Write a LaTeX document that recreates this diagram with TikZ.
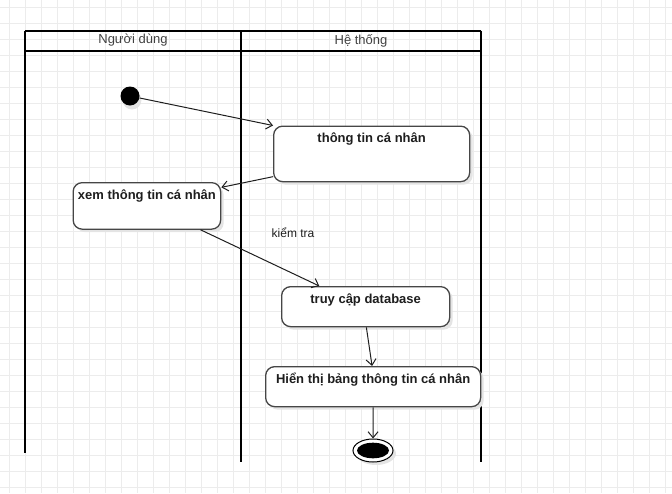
\documentclass[tikz,border=0pt]{standalone}
\usepackage{fontspec}
\setmainfont{Liberation Sans}
\usetikzlibrary{positioning,calc}
\usetikzlibrary{arrows.meta,shapes.geometric,shadows}
\definecolor{GridGray}{RGB}{236,236,236}
\definecolor{BoxGray}{RGB}{70,70,70}
\definecolor{ShadeGray}{RGB}{228,228,228}
\definecolor{InkDark}{RGB}{30,30,30}
\tikzset{
  gridline/.style={draw=GridGray,line width=1pt},
  lane/.style={draw=black,line width=2pt},
  lanetitle/.style={font=\fontsize{13}{15}\selectfont,text=InkDark!85},
  act/.style={draw=BoxGray,fill=white,line width=1.3pt,rounded corners=9pt,
    anchor=north west,inner sep=0pt,text height=16.5pt,
    font=\bfseries\fontsize{13}{15}\selectfont,text=InkDark,
    drop shadow={shadow xshift=3pt,shadow yshift=-3pt,fill=ShadeGray,opacity=1}},
  flow/.style={draw=InkDark,line width=1pt,-{Straight Barb[length=6pt,width=10pt]}},
  startdot/.style={circle,fill=black,minimum size=19pt,inner sep=0pt,
    drop shadow={shadow xshift=2pt,shadow yshift=-4pt,fill=ShadeGray,opacity=1}},
  stopring/.style={ellipse,draw=black,fill=white,line width=1pt,inner sep=0pt,
    minimum width=40pt,minimum height=23pt,
    drop shadow={shadow xshift=3pt,shadow yshift=-3pt,fill=ShadeGray,opacity=1}},
  guard/.style={font=\fontsize{12}{14}\selectfont,text=InkDark},
}

\begin{document}
\begin{tikzpicture}[x=1pt,y=-1pt]
\useasboundingbox (0,0) rectangle (672,493);
\foreach \gx in {9,25,...,665}
  \draw[gridline] (\gx,0) -- (\gx,493);
\foreach \gy in {7,23,...,487}
  \draw[gridline] (0,\gy) -- (672,\gy);
\coordinate (l1) at (25,30.5);
\coordinate (l2) at (241,30.5);
\coordinate (l3) at (480.5,30.5);
\draw[lane] (l1) -- (l3);
\draw[lane] (25,50.5) -- (480.5,50.5);
\draw[lane] (l1) -- (25,453);
\draw[lane] (l2) -- (241,462);
\draw[lane] (l3) -- (480.5,462);
\node[lanetitle] (nguoidung) at (133,40.5) {Người dùng};
\node[lanetitle] (hethong) at (361,40.5) {Hệ thống};
\node[startdot] (start) at (130,96) {};
\node[act,minimum width=196pt,text depth=39pt] (thongtin) at (273,125.5) {thông tin cá nhân};
\node[act,minimum width=147.5pt,text depth=30pt] (xemtt) at (72.5,182) {xem thông tin cá nhân};
\node[act,minimum width=168pt,text depth=23.5pt] (truycap) at (281,286) {truy cập database};
\node[act,minimum width=215pt,text depth=23.5pt] (hienthi) at (265,366) {Hiển thị bảng thông tin cá nhân};
\node[stopring] (stop) at (373,450.5) {};
\fill[black] (stop.center) ellipse [x radius=16pt,y radius=7.8pt];
\node[guard] (kiemtra) at (293,233) {kiểm tra};
\draw[flow] (start) -- (thongtin.north west);
\draw[flow] (thongtin.193) -- (xemtt.14);
\draw[flow] (xemtt.336) -- (truycap.156);
\draw[flow] (truycap.272) -- (hienthi.93);
\draw[flow] (hienthi.south) -- (stop);
\end{tikzpicture}
\end{document}
